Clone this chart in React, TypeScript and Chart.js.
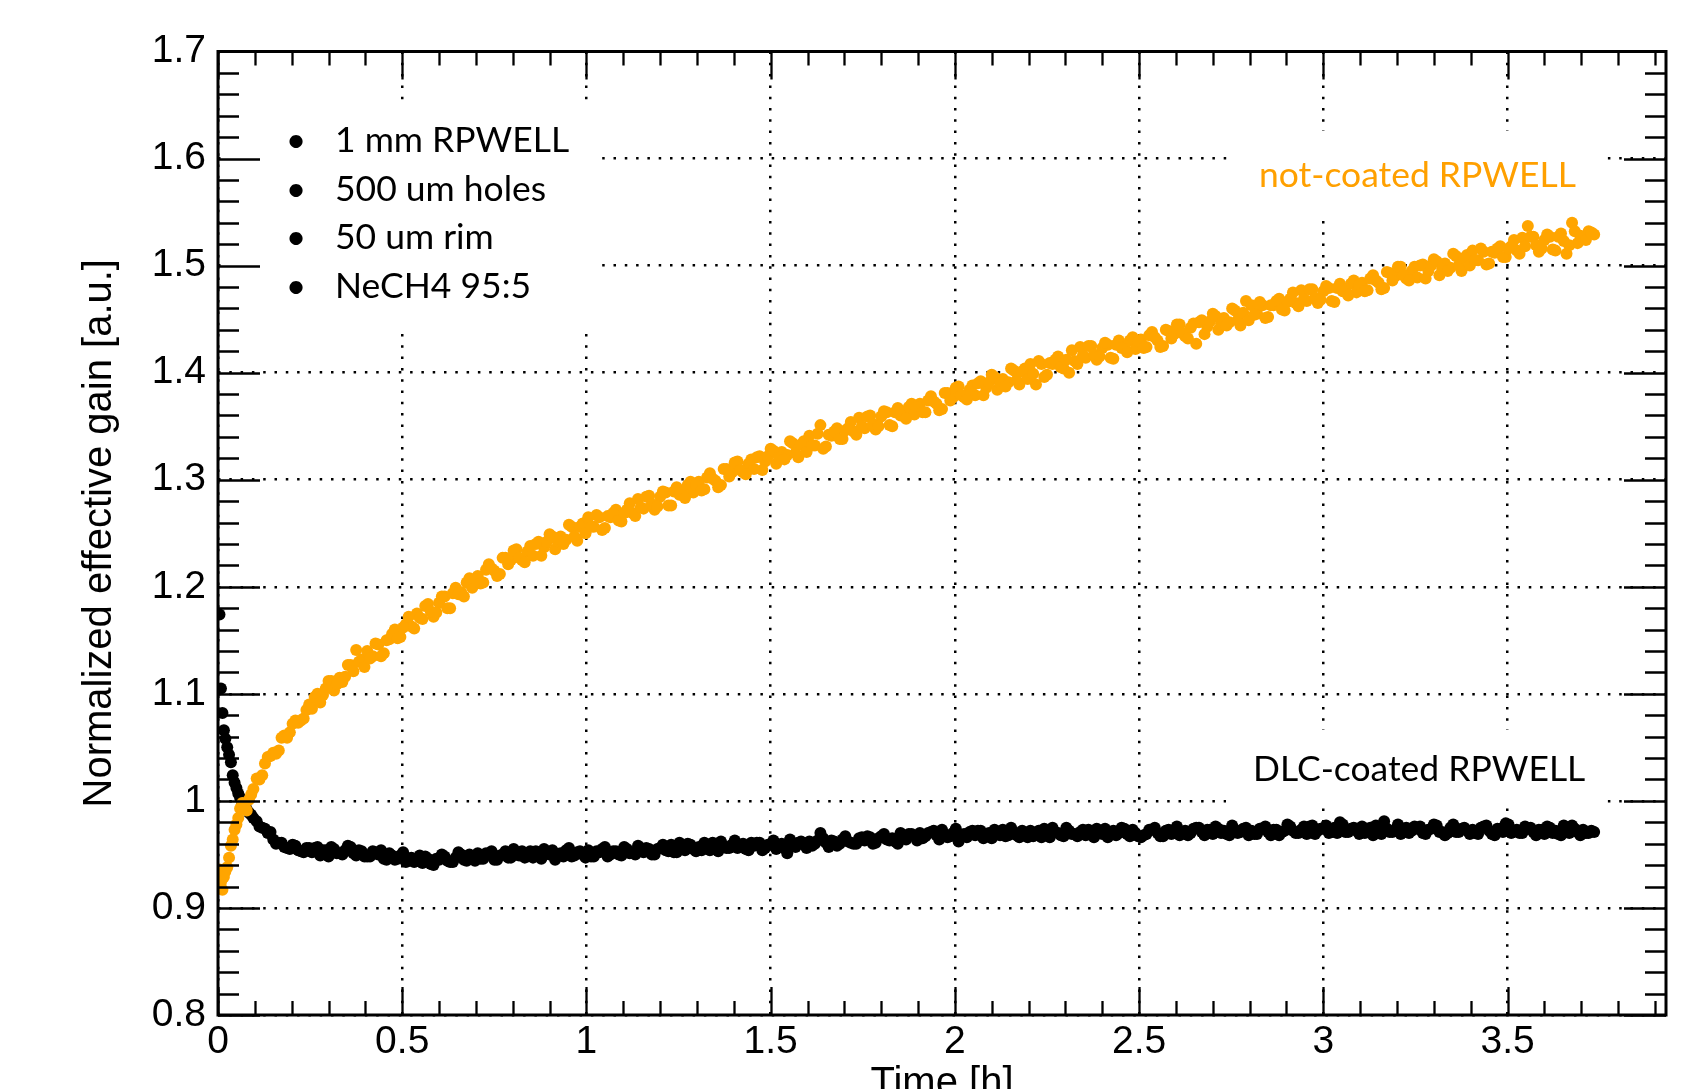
import React, { useEffect, useRef } from "react";
import { Chart, registerables } from "chart.js";

Chart.register(...registerables);

// Time [h] of each measurement (shared by both series)
const timeH = [
  0.004, 0.008, 0.012, 0.016, 0.02, 0.025, 0.03, 0.035, 0.04, 0.045, 0.05, 0.055, 0.06, 0.066, 0.072, 0.078, 0.084, 0.09, 0.096,
  0.105, 0.12, 0.135, 0.15, 0.165, 0.18, 0.195, 0.21, 0.225, 0.24,
  0.255, 0.27, 0.285, 0.3, 0.315, 0.33, 0.345, 0.36, 0.375, 0.39,
  0.405, 0.42, 0.435, 0.45, 0.465, 0.48, 0.495, 0.51, 0.525, 0.54,
  0.555, 0.57, 0.585, 0.6, 0.615, 0.63, 0.645, 0.66, 0.675, 0.69,
  0.705, 0.72, 0.735, 0.75, 0.765, 0.78, 0.795, 0.81, 0.825, 0.84,
  0.855, 0.87, 0.885, 0.9, 0.915, 0.93, 0.945, 0.96, 0.975, 0.99,
  1.005, 1.02, 1.035, 1.05, 1.065, 1.08, 1.095, 1.11, 1.125, 1.14,
  1.155, 1.17, 1.185, 1.2, 1.215, 1.23, 1.245, 1.26, 1.275, 1.29,
  1.305, 1.32, 1.335, 1.35, 1.365, 1.38, 1.395, 1.41, 1.425, 1.44,
  1.455, 1.47, 1.485, 1.5, 1.515, 1.53, 1.545, 1.56, 1.575, 1.59,
  1.605, 1.62, 1.635, 1.65, 1.665, 1.68, 1.695, 1.71, 1.725, 1.74,
  1.755, 1.77, 1.785, 1.8, 1.815, 1.83, 1.845, 1.86, 1.875, 1.89,
  1.905, 1.92, 1.935, 1.95, 1.965, 1.98, 1.995, 2.01, 2.025, 2.04,
  2.055, 2.07, 2.085, 2.1, 2.115, 2.13, 2.145, 2.16, 2.175, 2.19,
  2.205, 2.22, 2.235, 2.25, 2.265, 2.28, 2.295, 2.31, 2.325, 2.34,
  2.355, 2.37, 2.385, 2.4, 2.415, 2.43, 2.445, 2.46, 2.475, 2.49,
  2.505, 2.52, 2.535, 2.55, 2.565, 2.58, 2.595, 2.61, 2.625, 2.64,
  2.655, 2.67, 2.685, 2.7, 2.715, 2.73, 2.745, 2.76, 2.775, 2.79,
  2.805, 2.82, 2.835, 2.85, 2.865, 2.88, 2.895, 2.91, 2.925, 2.94,
  2.955, 2.97, 2.985, 3.0, 3.015, 3.03, 3.045, 3.06, 3.075, 3.09,
  3.105, 3.12, 3.135, 3.15, 3.165, 3.18, 3.195, 3.21, 3.225, 3.24,
  3.255, 3.27, 3.285, 3.3, 3.315, 3.33, 3.345, 3.36, 3.375, 3.39,
  3.405, 3.42, 3.435, 3.45, 3.465, 3.48, 3.495, 3.51, 3.525, 3.54,
  3.555, 3.57, 3.585, 3.6, 3.615, 3.63, 3.645, 3.66, 3.675, 3.69,
  3.705, 3.72, 3.735,
];

// not-coated RPWELL (orange), at timeH
const uncoatedGain = [
  0.936, 0.924, 0.917, 0.929, 0.934, 0.938, 0.947, 0.958, 0.964, 0.973, 0.978, 0.984, 0.993, 0.998, 0.996, 0.991, 1.001, 1.006, 1.011,
  1.021, 1.024, 1.041, 1.045, 1.047, 1.061, 1.064, 1.075, 1.075, 1.085,
  1.086, 1.1, 1.099, 1.112, 1.103, 1.115, 1.116, 1.127, 1.141, 1.132,
  1.14, 1.135, 1.146, 1.138, 1.151, 1.16, 1.153, 1.165, 1.163, 1.175,
  1.17, 1.184, 1.172, 1.185, 1.191, 1.18, 1.199, 1.195, 1.204, 1.199,
  1.21, 1.204, 1.221, 1.215, 1.212, 1.227, 1.225, 1.235, 1.225, 1.233,
  1.229, 1.242, 1.237, 1.249, 1.235, 1.247, 1.244, 1.256, 1.243, 1.259,
  1.265, 1.256, 1.265, 1.255, 1.265, 1.272, 1.261, 1.272, 1.269, 1.282,
  1.273, 1.285, 1.272, 1.284, 1.288, 1.276, 1.293, 1.288, 1.295, 1.288,
  1.298, 1.291, 1.306, 1.299, 1.295, 1.31, 1.307, 1.317, 1.307, 1.315,
  1.31, 1.322, 1.317, 1.329, 1.315, 1.326, 1.323, 1.334, 1.321, 1.336,
  1.341, 1.332, 1.351, 1.331, 1.341, 1.348, 1.338, 1.348, 1.345, 1.358,
  1.348, 1.36, 1.347, 1.359, 1.363, 1.35, 1.367, 1.362, 1.368, 1.361,
  1.371, 1.363, 1.378, 1.371, 1.366, 1.381, 1.377, 1.387, 1.377, 1.384,
  1.379, 1.392, 1.386, 1.398, 1.384, 1.394, 1.391, 1.402, 1.389, 1.404,
  1.408, 1.389, 1.408, 1.398, 1.408, 1.415, 1.404, 1.4, 1.411, 1.424,
  1.414, 1.425, 1.412, 1.423, 1.426, 1.413, 1.43, 1.424, 1.43, 1.422,
  1.431, 1.424, 1.438, 1.43, 1.425, 1.439, 1.436, 1.445, 1.434, 1.442,
  1.427, 1.449, 1.443, 1.455, 1.44, 1.451, 1.447, 1.458, 1.444, 1.467,
  1.463, 1.455, 1.463, 1.452, 1.463, 1.469, 1.458, 1.469, 1.465, 1.477,
  1.467, 1.478, 1.465, 1.476, 1.479, 1.466, 1.483, 1.477, 1.483, 1.475,
  1.484, 1.477, 1.491, 1.484, 1.479, 1.493, 1.49, 1.499, 1.488, 1.495,
  1.489, 1.501, 1.495, 1.506, 1.491, 1.502, 1.498, 1.509, 1.495, 1.51,
  1.514, 1.505, 1.513, 1.502, 1.512, 1.518, 1.508, 1.518, 1.514, 1.526,
  1.537, 1.527, 1.513, 1.524, 1.527, 1.514, 1.53, 1.511, 1.54, 1.521,
  1.526, 1.532, 1.529,
];

// DLC-coated RPWELL (black), at timeH
const dlcGain = [
  1.174, 1.105, 1.082, 1.066, 1.058, 1.05, 1.043, 1.036, 1.024, 1.017, 1.012, 1.007, 1.003, 0.997, 0.994, 0.992, 0.989, 0.987, 0.984,
  0.981, 0.975, 0.97, 0.964, 0.961, 0.957, 0.955, 0.958, 0.953, 0.956,
  0.952, 0.957, 0.954, 0.948, 0.955, 0.951, 0.954, 0.957, 0.949, 0.953,
  0.948, 0.953, 0.95, 0.946, 0.951, 0.945, 0.949, 0.943, 0.947, 0.945,
  0.942, 0.946, 0.94, 0.945, 0.948, 0.943, 0.947, 0.95, 0.944, 0.948,
  0.951, 0.946, 0.95, 0.945, 0.949, 0.953, 0.947, 0.95, 0.953, 0.948,
  0.947, 0.952, 0.955, 0.95, 0.945, 0.951, 0.954, 0.948, 0.952, 0.95,
  0.954, 0.948, 0.952, 0.957, 0.95, 0.953, 0.949, 0.955, 0.952, 0.958,
  0.952, 0.955, 0.95, 0.956, 0.954, 0.959, 0.952, 0.956, 0.96, 0.955,
  0.957, 0.961, 0.954, 0.958, 0.962, 0.956, 0.959, 0.956, 0.96, 0.954,
  0.958, 0.961, 0.956, 0.959, 0.955, 0.96, 0.951, 0.958, 0.961, 0.959,
  0.962, 0.96, 0.97, 0.961, 0.963, 0.958, 0.964, 0.962, 0.96, 0.965,
  0.963, 0.966, 0.961, 0.967, 0.964, 0.965, 0.96, 0.966, 0.969, 0.967,
  0.97, 0.967, 0.971, 0.968, 0.973, 0.966, 0.97, 0.962, 0.969, 0.971,
  0.968, 0.972, 0.969, 0.965, 0.97, 0.973, 0.968, 0.971, 0.966, 0.97,
  0.972, 0.969, 0.966, 0.971, 0.975, 0.97, 0.967, 0.972, 0.969, 0.971,
  0.968, 0.971, 0.974, 0.969, 0.966, 0.972, 0.97, 0.974, 0.967, 0.97,
  0.966, 0.969, 0.973, 0.97, 0.967, 0.973, 0.971, 0.968, 0.972, 0.97,
  0.975, 0.971, 0.973, 0.969, 0.974, 0.972, 0.968, 0.973, 0.971, 0.975,
  0.972, 0.969, 0.974, 0.971, 0.973, 0.968, 0.972, 0.976, 0.97, 0.973,
  0.969, 0.977, 0.972, 0.974, 0.97, 0.975, 0.98, 0.971, 0.974, 0.972,
  0.976, 0.971, 0.968, 0.974, 0.981, 0.971, 0.973, 0.969, 0.975, 0.972,
  0.974, 0.97, 0.973, 0.978, 0.971, 0.968, 0.975, 0.971, 0.974, 0.972,
  0.973, 0.969, 0.976, 0.972, 0.968, 0.974, 0.979, 0.97, 0.973, 0.97,
  0.974, 0.971, 0.973, 0.969, 0.975, 0.972, 0.968, 0.974, 0.977, 0.971,
  0.973, 0.97, 0.971,
];

// Intermediate measurements [h]
const timeHMid = [
  0.1125, 0.1275, 0.1425, 0.1575, 0.1725, 0.1875, 0.2025, 0.2175, 0.2325, 0.2475,
  0.2625, 0.2775, 0.2925, 0.3075, 0.3225, 0.3375, 0.3525, 0.3675, 0.3825, 0.3975,
  0.4125, 0.4275, 0.4425, 0.4575, 0.4725, 0.4875, 0.5025, 0.5175, 0.5325, 0.5475,
  0.5625, 0.5775, 0.5925, 0.6075, 0.6225, 0.6375, 0.6525, 0.6675, 0.6825, 0.6975,
  0.7125, 0.7275, 0.7425, 0.7575, 0.7725, 0.7875, 0.8025, 0.8175, 0.8325, 0.8475,
  0.8625, 0.8775, 0.8925, 0.9075, 0.9225, 0.9375, 0.9525, 0.9675, 0.9825, 0.9975,
  1.0125, 1.0275, 1.0425, 1.0575, 1.0725, 1.0875, 1.1025, 1.1175, 1.1325, 1.1475,
  1.1625, 1.1775, 1.1925, 1.2075, 1.2225, 1.2375, 1.2525, 1.2675, 1.2825, 1.2975,
  1.3125, 1.3275, 1.3425, 1.3575, 1.3725, 1.3875, 1.4025, 1.4175, 1.4325, 1.4475,
  1.4625, 1.4775, 1.4925, 1.5075, 1.5225, 1.5375, 1.5525, 1.5675, 1.5825, 1.5975,
  1.6125, 1.6275, 1.6425, 1.6575, 1.6725, 1.6875, 1.7025, 1.7175, 1.7325, 1.7475,
  1.7625, 1.7775, 1.7925, 1.8075, 1.8225, 1.8375, 1.8525, 1.8675, 1.8825, 1.8975,
  1.9125, 1.9275, 1.9425, 1.9575, 1.9725, 1.9875, 2.0025, 2.0175, 2.0325, 2.0475,
  2.0625, 2.0775, 2.0925, 2.1075, 2.1225, 2.1375, 2.1525, 2.1675, 2.1825, 2.1975,
  2.2125, 2.2275, 2.2425, 2.2575, 2.2725, 2.2875, 2.3025, 2.3175, 2.3325, 2.3475,
  2.3625, 2.3775, 2.3925, 2.4075, 2.4225, 2.4375, 2.4525, 2.4675, 2.4825, 2.4975,
  2.5125, 2.5275, 2.5425, 2.5575, 2.5725, 2.5875, 2.6025, 2.6175, 2.6325, 2.6475,
  2.6625, 2.6775, 2.6925, 2.7075, 2.7225, 2.7375, 2.7525, 2.7675, 2.7825, 2.7975,
  2.8125, 2.8275, 2.8425, 2.8575, 2.8725, 2.8875, 2.9025, 2.9175, 2.9325, 2.9475,
  2.9625, 2.9775, 2.9925, 3.0075, 3.0225, 3.0375, 3.0525, 3.0675, 3.0825, 3.0975,
  3.1125, 3.1275, 3.1425, 3.1575, 3.1725, 3.1875, 3.2025, 3.2175, 3.2325, 3.2475,
  3.2625, 3.2775, 3.2925, 3.3075, 3.3225, 3.3375, 3.3525, 3.3675, 3.3825, 3.3975,
  3.4125, 3.4275, 3.4425, 3.4575, 3.4725, 3.4875, 3.5025, 3.5175, 3.5325, 3.5475,
  3.5625, 3.5775, 3.5925, 3.6075, 3.6225, 3.6375, 3.6525, 3.6675, 3.6825, 3.6975,
  3.7125, 3.7275,
];

// not-coated RPWELL (orange), at timeHMid
const uncoatedGainMid = [
  1.02, 1.035, 1.042, 1.044, 1.059, 1.059, 1.072, 1.073, 1.077, 1.09,
  1.097, 1.092, 1.105, 1.112, 1.109, 1.111, 1.127, 1.121, 1.13, 1.125,
  1.133, 1.147, 1.135, 1.15, 1.156, 1.152, 1.162, 1.172, 1.161, 1.171,
  1.182, 1.177, 1.176, 1.191, 1.18, 1.194, 1.193, 1.191, 1.208, 1.207,
  1.203, 1.216, 1.217, 1.21, 1.227, 1.221, 1.234, 1.227, 1.223, 1.238,
  1.24, 1.229, 1.242, 1.247, 1.242, 1.24, 1.258, 1.247, 1.256, 1.25,
  1.256, 1.267, 1.253, 1.266, 1.269, 1.262, 1.269, 1.278, 1.266, 1.274,
  1.284, 1.277, 1.275, 1.289, 1.276, 1.289, 1.286, 1.283, 1.298, 1.295,
  1.29, 1.302, 1.301, 1.293, 1.31, 1.303, 1.316, 1.309, 1.305, 1.319,
  1.321, 1.309, 1.322, 1.327, 1.321, 1.319, 1.336, 1.325, 1.333, 1.326,
  1.332, 1.343, 1.329, 1.342, 1.345, 1.338, 1.346, 1.354, 1.342, 1.35,
  1.359, 1.352, 1.35, 1.364, 1.351, 1.363, 1.36, 1.357, 1.371, 1.368,
  1.363, 1.374, 1.373, 1.365, 1.381, 1.374, 1.386, 1.379, 1.375, 1.388,
  1.39, 1.379, 1.391, 1.396, 1.39, 1.387, 1.404, 1.393, 1.401, 1.394,
  1.399, 1.411, 1.396, 1.409, 1.412, 1.405, 1.412, 1.421, 1.408, 1.416,
  1.425, 1.417, 1.415, 1.428, 1.414, 1.426, 1.423, 1.419, 1.433, 1.429,
  1.423, 1.435, 1.433, 1.424, 1.44, 1.432, 1.445, 1.437, 1.432, 1.446,
  1.447, 1.436, 1.448, 1.453, 1.446, 1.444, 1.46, 1.449, 1.456, 1.449,
  1.454, 1.466, 1.451, 1.463, 1.467, 1.459, 1.466, 1.475, 1.462, 1.469,
  1.478, 1.47, 1.468, 1.481, 1.467, 1.479, 1.476, 1.472, 1.486, 1.482,
  1.476, 1.488, 1.486, 1.478, 1.494, 1.486, 1.499, 1.491, 1.486, 1.499,
  1.5, 1.488, 1.5, 1.504, 1.497, 1.495, 1.511, 1.5, 1.507, 1.5,
  1.505, 1.516, 1.501, 1.513, 1.516, 1.508, 1.516, 1.524, 1.511, 1.518,
  1.527, 1.519, 1.516, 1.529, 1.515, 1.527, 1.523, 1.519, 1.532, 1.528,
  1.524, 1.531,
];

// DLC-coated RPWELL (black), at timeHMid
const dlcGainMid = [
  0.976, 0.974, 0.971, 0.96, 0.961, 0.956, 0.959, 0.954, 0.952, 0.956,
  0.956, 0.949, 0.954, 0.957, 0.951, 0.95, 0.958, 0.951, 0.954, 0.948,
  0.948, 0.952, 0.954, 0.945, 0.949, 0.946, 0.952, 0.946, 0.943, 0.949,
  0.948, 0.941, 0.946, 0.95, 0.944, 0.943, 0.952, 0.945, 0.95, 0.944,
  0.946, 0.951, 0.953, 0.945, 0.95, 0.947, 0.955, 0.949, 0.947, 0.953,
  0.953, 0.946, 0.951, 0.954, 0.949, 0.948, 0.956, 0.949, 0.953, 0.947,
  0.948, 0.953, 0.955, 0.948, 0.953, 0.95, 0.957, 0.951, 0.95, 0.956,
  0.956, 0.95, 0.955, 0.959, 0.953, 0.952, 0.961, 0.954, 0.959, 0.953,
  0.954, 0.959, 0.961, 0.953, 0.958, 0.956, 0.963, 0.957, 0.955, 0.961,
  0.961, 0.954, 0.959, 0.963, 0.957, 0.956, 0.964, 0.957, 0.962, 0.956,
  0.958, 0.963, 0.965, 0.957, 0.962, 0.96, 0.967, 0.961, 0.96, 0.966,
  0.967, 0.96, 0.965, 0.969, 0.963, 0.962, 0.97, 0.964, 0.969, 0.963,
  0.965, 0.97, 0.972, 0.964, 0.969, 0.967, 0.974, 0.968, 0.966, 0.972,
  0.972, 0.965, 0.97, 0.973, 0.968, 0.967, 0.975, 0.968, 0.972, 0.966,
  0.967, 0.972, 0.974, 0.966, 0.971, 0.968, 0.975, 0.969, 0.967, 0.973,
  0.973, 0.966, 0.971, 0.974, 0.969, 0.968, 0.975, 0.969, 0.973, 0.967,
  0.968, 0.973, 0.975, 0.967, 0.972, 0.969, 0.976, 0.97, 0.968, 0.974,
  0.975, 0.968, 0.973, 0.976, 0.97, 0.969, 0.977, 0.97, 0.974, 0.968,
  0.969, 0.974, 0.976, 0.968, 0.973, 0.971, 0.978, 0.972, 0.97, 0.976,
  0.976, 0.969, 0.974, 0.977, 0.971, 0.97, 0.978, 0.971, 0.975, 0.969,
  0.97, 0.975, 0.977, 0.969, 0.974, 0.971, 0.978, 0.972, 0.97, 0.976,
  0.976, 0.969, 0.974, 0.977, 0.971, 0.97, 0.978, 0.971, 0.975, 0.969,
  0.97, 0.975, 0.977, 0.969, 0.974, 0.971, 0.978, 0.972, 0.97, 0.976,
  0.975, 0.968, 0.973, 0.976, 0.97, 0.969, 0.977, 0.97, 0.974, 0.968,
  0.97, 0.972,
];

const xRange = [0, 3.93];
const yRange = [0.8, 1.7];
const xMajorStep = 0.5;
const xMinorPerMajor = 5;
const yMajorStep = 0.1;
const yMinorPerMajor = 5;

const legendLines = ["1 mm RPWELL", "500 um holes", "50 um rim", "NeCH4 95:5"];
const uncoatedLabel = "not-coated RPWELL";
const dlcLabel = "DLC-coated RPWELL";
const xTitle = "Time [h]";
const yTitle = "Normalized effective gain [a.u.]";

const SANS = "'Liberation Sans', Arial, Helvetica, sans-serif";
const HUMANIST = "Lato, 'Open Sans', sans-serif";
const ORANGE = "#FFA500";
const ORANGE_TEXT = "#FFA000";

const fmt = (v: number | string) => String(Math.round(Number(v) * 100) / 100);

const rootStyle = {
  id: "rootStyle",
  beforeDatasetsDraw(chart: any) {
    const ctx = chart.ctx as CanvasRenderingContext2D;
    ctx.save();
    ctx.fillStyle = "#ffffff";
    // opaque text panes that hide the grid behind them
    ctx.fillRect(221, 104, 376, 222);
    ctx.fillRect(1228, 131, 379, 84);
    ctx.fillRect(1226, 730, 381, 74);
    ctx.restore();
  },
  afterDraw(chart: any) {
    const ctx = chart.ctx as CanvasRenderingContext2D;
    const a = chart.chartArea;
    const xs = chart.scales.x;
    const ys = chart.scales.y;
    ctx.save();
    ctx.strokeStyle = "#000";
    ctx.lineWidth = 2.3;
    ctx.beginPath();
    const xMinor = xMajorStep / xMinorPerMajor;
    const nx = Math.floor((xRange[1] - xRange[0]) / xMinor + 1e-6);
    for (let i = 0; i <= nx; i++) {
      const v = xRange[0] + i * xMinor;
      const px = Math.round(xs.getPixelForValue(v)) + 0.5;
      const len = i % xMinorPerMajor === 0 ? 28 : 14;
      ctx.moveTo(px, a.bottom);
      ctx.lineTo(px, a.bottom - len);
      ctx.moveTo(px, a.top);
      ctx.lineTo(px, a.top + len);
    }
    const yMinor = yMajorStep / yMinorPerMajor;
    const ny = Math.round((yRange[1] - yRange[0]) / yMinor);
    for (let i = 0; i <= ny; i++) {
      const v = yRange[0] + i * yMinor;
      const py = Math.round(ys.getPixelForValue(v)) + 0.5;
      const len = i % yMinorPerMajor === 0 ? 42 : 21;
      ctx.moveTo(a.left, py);
      ctx.lineTo(a.left + len, py);
      ctx.moveTo(a.right, py);
      ctx.lineTo(a.right - len, py);
    }
    ctx.stroke();
    ctx.lineWidth = 3;
    ctx.strokeRect(a.left, a.top, a.right - a.left, a.bottom - a.top);

    // annotation texts
    ctx.font = `40px ${HUMANIST}`;
    const w = ctx.measureText(uncoatedLabel).width;
    const size = (40 * 317) / w;
    ctx.font = `${size}px ${HUMANIST}`;
    ctx.textBaseline = "alphabetic";
    ctx.fillStyle = "#000";
    legendLines.forEach((t, i) => {
      const by = 152 + i * 48.5;
      ctx.textAlign = "center";
      ctx.fillText("\u2022", 296, by);
      ctx.textAlign = "left";
      ctx.fillText(t, 335, by);
    });
    ctx.textAlign = "left";
    ctx.fillStyle = ORANGE_TEXT;
    ctx.fillText(uncoatedLabel, 1259, 187);
    ctx.fillStyle = "#000";
    ctx.fillText(dlcLabel, 1253, 781);
    ctx.restore();
  },
};

export default function App() {
  const ref = useRef<HTMLCanvasElement | null>(null);

  useEffect(() => {
    if (!ref.current) return;
    const uncoated = timeH
      .map((t, i) => ({ x: t, y: uncoatedGain[i] }))
      .concat(timeHMid.map((t, i) => ({ x: t, y: uncoatedGainMid[i] })));
    const dlc = timeH
      .map((t, i) => ({ x: t, y: dlcGain[i] }))
      .concat(timeHMid.map((t, i) => ({ x: t, y: dlcGainMid[i] })));
    const chart = new Chart(ref.current, {
      type: "scatter",
      data: {
        datasets: [
          {
            label: uncoatedLabel,
            data: uncoated,
            backgroundColor: ORANGE,
            borderWidth: 0,
            pointRadius: 6,
            pointHoverRadius: 6,
          },
          {
            label: dlcLabel,
            data: dlc,
            backgroundColor: "#000",
            borderWidth: 0,
            pointRadius: 6,
            pointHoverRadius: 6,
          },
        ],
      },
      options: {
        responsive: false,
        animation: false,
        devicePixelRatio: 1,
        events: [],
        layout: { padding: { left: 0, right: 35, top: 51.5, bottom: 0 } },
        plugins: { legend: { display: false }, tooltip: { enabled: false } },
        scales: {
          x: {
            type: "linear",
            position: "bottom",
            min: xRange[0],
            max: xRange[1],
            afterFit: (s: any) => {
              s.height = 74;
            },
            ticks: {
              stepSize: xMajorStep,
              includeBounds: false,
              autoSkip: false,
              maxRotation: 0,
              padding: 8,
              color: "#000",
              font: { family: SANS, size: 39, lineHeight: 1 },
              callback: (v: any) => fmt(v),
            },
            grid: { color: "#000", lineWidth: 2.5, drawTicks: false },
            border: { display: false, dash: [2.5, 8.8] },
            title: {
              display: true,
              text: xTitle,
              color: "#000",
              font: { family: SANS, size: 40, lineHeight: 1 },
              padding: { top: 0, bottom: -15 },
            },
          },
          y: {
            type: "linear",
            position: "left",
            min: yRange[0],
            max: yRange[1],
            afterFit: (s: any) => {
              s.width = 218;
            },
            ticks: {
              stepSize: yMajorStep,
              autoSkip: false,
              padding: 12,
              color: "#000",
              font: { family: SANS, size: 39, lineHeight: 1 },
              callback: (v: any) => fmt(v),
            },
            grid: { color: "#000", lineWidth: 2.5, drawTicks: false },
            border: { display: false, dash: [2.5, 8.8] },
            title: {
              display: true,
              text: yTitle,
              color: "#000",
              font: { family: SANS, size: 40, lineHeight: 1 },
              padding: { top: 80, bottom: 0 },
            },
          },
        },
      } as any,
      plugins: [rootStyle],
    });
    return () => chart.destroy();
  }, []);

  return (
    <canvas
      ref={ref}
      width={1701}
      height={1089}
      style={{ position: "absolute", left: 0, top: 0, width: 1701, height: 1089 }}
    />
  );
}
